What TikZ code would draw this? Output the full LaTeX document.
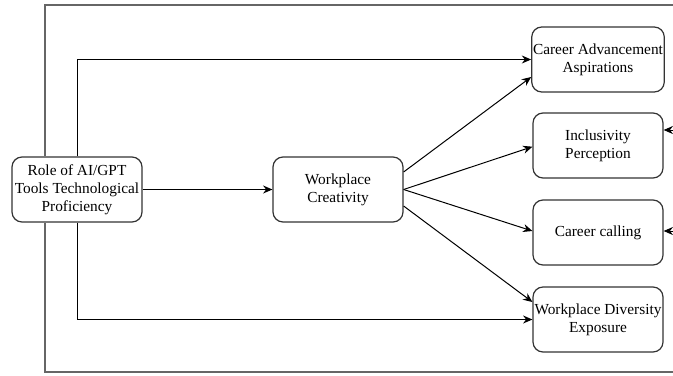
\documentclass[tikz,border=0pt]{standalone}
\usepackage{fontspec}
\setmainfont{Liberation Serif}
\usetikzlibrary{arrows.meta,calc}
\begin{document}
\begin{tikzpicture}[x=0.75pt,y=-0.75pt,
  box/.style={draw=black!80,line width=0.9pt,rounded corners=7.5pt,minimum width=97.5pt,minimum height=48.75pt,align=center,inner sep=1pt,font=\fontsize{11.5}{13.5}\selectfont},
  arr/.style={line width=0.75pt,-{Stealth[length=7pt,width=6pt]}},
  frame/.style={draw=black!60,line width=0.9pt}]
\useasboundingbox (0,0) rectangle (673,375);
\node[box] (role) at (77,189.5) {Role of AI/GPT\\Tools Technological\\Proficiency};
\node[box] (crea) at (338,189.5) {Workplace\\Creativity};
\node[box] (ca) at (598,59.5) {Career Advancement\\Aspirations};
\node[box] (inc) at (598,145.5) {Inclusivity\\Perception};
\node[box] (cc) at (598,232.5) {Career calling};
\node[box] (wde) at (598,319.5) {Workplace Diversity\\Exposure};
\coordinate (ftl) at (45,5);
\coordinate (fbl) at (45,372);
\coordinate (ftr) at (674,5);
\coordinate (fbr) at (674,372);
\coordinate (r1) at (674,130);
\coordinate (r2) at (674,231);
\draw[frame] (role.north -| ftl) -- (ftl) -- (ftr);
\draw[frame] (role.south -| fbl) -- (fbl) -- (fbr);
\draw[arr] (r1) -- (r1 -| inc.east);
\draw[arr] (r2) -- (r2 -| cc.east);
\draw[arr] (role.north) |- (ca.west);
\draw[arr] (role.south) |- (wde.west);
\draw[arr] (role.east) -- (crea.west);
\draw[arr] ($(crea.east)+(0,-17.5)$) -- ($(ca.west)+(0,17.5)$);
\draw[arr] (crea.east) -- ($(inc.west)+(0,1.2)$);
\draw[arr] (crea.east) -- ($(cc.west)+(0,-1.5)$);
\draw[arr] ($(crea.east)+(0,16.5)$) -- ($(wde.west)+(0,-17.5)$);
\end{tikzpicture}
\end{document}
